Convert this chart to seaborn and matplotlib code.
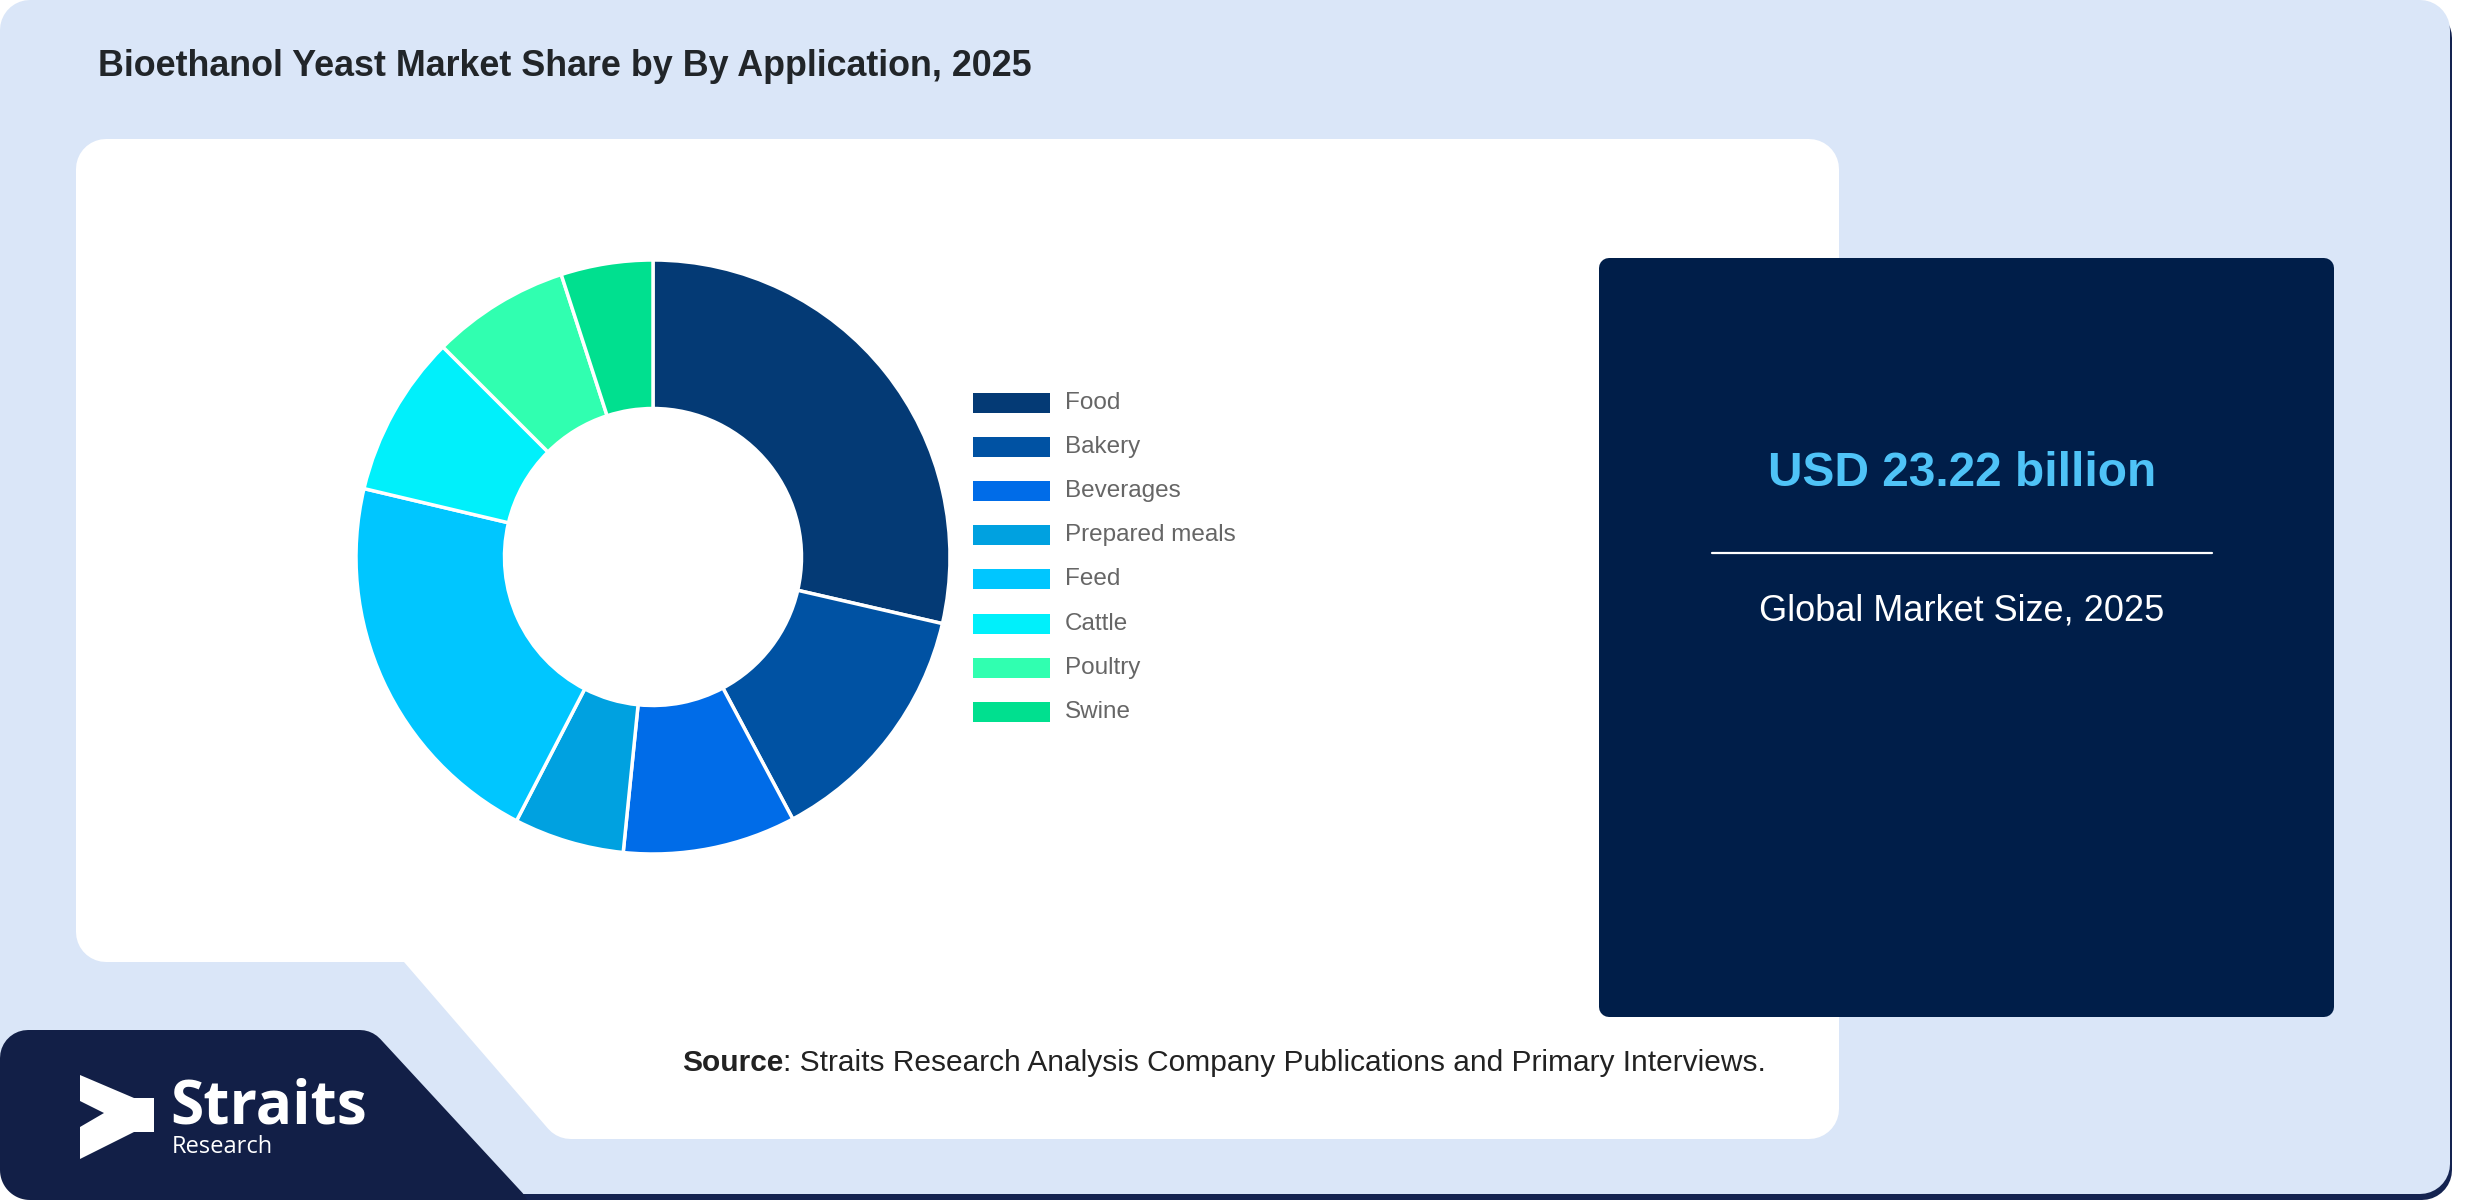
import numpy as np
import seaborn as sns
import matplotlib.pyplot as plt
from matplotlib.patches import Polygon

# market share by application, 2025 (%)
categories = ["Food", "Bakery", "Beverages", "Prepared meals", "Feed", "Cattle", "Poultry", "Swine"]
shares = [28.6, 13.6, 9.4, 6.0, 21.1, 8.8, 7.5, 5.0]
colors = ["#043a75", "#0052a3", "#006ce8", "#00a1e0", "#00c6ff", "#00f0fb", "#30ffb0", "#00e08f"]

title = "Bioethanol Yeast Market Share by By Application, 2025"
market_size = "USD 23.22 billion"
market_label = "Global Market Size, 2025"
source_text = ": Straits Research Analysis Company Publications and Primary Interviews."

sns.set_theme(style="white")
palette = sns.color_palette(colors)
plt.rcParams["font.family"] = ["Liberation Sans", "DejaVu Sans"]

W, H, DPI = 2480, 1200, 100


def inset(pts, d):
    # move every edge of a polygon inward by d (pixel units)
    pts = np.array(pts, float)
    n = len(pts)
    area = 0.5 * np.sum(pts[:, 0] * np.roll(pts[:, 1], -1) - np.roll(pts[:, 0], -1) * pts[:, 1])
    s = 1 if area > 0 else -1
    out = []
    for i in range(n):
        p0, p1, p2 = pts[i - 1], pts[i], pts[(i + 1) % n]
        e1, e2 = p1 - p0, p2 - p1
        n1 = s * np.array([-e1[1], e1[0]]) / np.hypot(*e1)
        n2 = s * np.array([-e2[1], e2[0]]) / np.hypot(*e2)
        A = np.array([e1, -e2]).T
        b = (p1 + n2 * d) - (p0 + n1 * d)
        t = np.linalg.solve(A, b)[0]
        out.append(p0 + n1 * d + t * e1)
    return out


def rounded_shape(ax, pts, r, color, z):
    # rounded corners: inset polygon + thick stroke with round joins
    ax.add_patch(Polygon(inset(pts, r), closed=True, facecolor=color, edgecolor=color,
                         linewidth=2 * r * 72 / DPI, joinstyle="round", zorder=z))


fig = plt.figure(figsize=(W / DPI, H / DPI), dpi=DPI, facecolor="white")
bg = fig.add_axes([0, 0, 1, 1])
bg.set_xlim(0, W)
bg.set_ylim(H, 0)
bg.axis("off")

# card, bottom shadow line
rounded_shape(bg, [(0, 8), (2452, 8), (2452, 1200), (0, 1200)], 30, "#142350", 1)
rounded_shape(bg, [(0, 0), (2450, 0), (2450, 1194), (0, 1194)], 30, "#dae6f8", 2)

# white panel with cut corner
rounded_shape(bg, [(76, 139), (1839, 139), (1839, 1139), (557, 1139), (404, 962), (76, 962)],
              30, "white", 3)

# logo block (runs off the bottom edge into the shadow line)
rounded_shape(bg, [(0, 1030), (372, 1030), (566, 1240), (0, 1240)], 28, "#121f47", 4)
# white mask to keep the card's rounded bottom-left corner
th = np.linspace(np.pi, np.pi / 2, 20)
corner = [(0, 1200)] + [(30 + 30 * np.cos(t), 1170 + 30 * np.sin(t)) for t in th]
bg.add_patch(Polygon(corner, closed=True, facecolor="white", edgecolor="none", zorder=7))

# market size box
rounded_shape(bg, [(1599, 258), (2334, 258), (2334, 1017), (1599, 1017)], 10, "#001e49", 4)

bg.text(98, 66, title, fontsize=25.8, fontweight="bold", color="#212529", va="center", ha="left")

bg.text(1962, 473, market_size, fontsize=34.5, fontweight="bold", color="#4fc3f7",
        ha="center", va="center", zorder=5)
bg.plot([1712, 2212], [553, 553], color="white", lw=1.6, zorder=5)
bg.text(1962, 611, market_label, fontsize=26, color="white", ha="center", va="center", zorder=5)

src = bg.text(682, 1063, "Source", fontsize=21.5, fontweight="bold", color="#222222",
              ha="left", va="center", zorder=5)
renderer = fig.canvas.get_renderer()
src_w = src.get_window_extent(renderer).width
bg.text(682 + src_w, 1063, source_text, fontsize=21.5, color="#222222",
        ha="left", va="center", zorder=5)

# logo mark and wordmark
logo = [(80, 1075), (134, 1098), (154, 1098), (154, 1132), (134, 1132), (80, 1159),
        (80, 1127), (104, 1113), (80, 1101)]
bg.add_patch(Polygon(logo, closed=True, facecolor="white", edgecolor="none", zorder=6))
bg.text(170, 1124, "Straits", fontsize=43.5, fontweight="bold", color="white",
        family=["Open Sans", "DejaVu Sans"], ha="left", va="baseline", zorder=6)
bg.text(172, 1153, "Research", fontsize=17, color="white",
        family=["Open Sans", "DejaVu Sans"], ha="left", va="baseline", zorder=6)

# legend
for i, (cat, col) in enumerate(zip(categories, palette)):
    y = 403 + i * 44.1
    bg.add_patch(Polygon([(973, y - 10), (1050, y - 10), (1050, y + 10), (973, y + 10)],
                         closed=True, facecolor=col, edgecolor="none", zorder=6))
    bg.text(1065, y, cat, fontsize=17.5, color="#666666", ha="left", va="center", zorder=6)

# donut
cx, cy, R = 653, 557, 297
ax = fig.add_axes([(cx - R) / W, 1 - (cy + R) / H, 2 * R / W, 2 * R / H])
ax.patch.set_alpha(0)
ax.pie(shares, colors=palette, startangle=90, counterclock=False, radius=1,
       wedgeprops=dict(width=0.5, edgecolor="white", linewidth=2.5))
ax.set_xlim(-1, 1)
ax.set_ylim(-1, 1)
ax.axis("off")

fig.savefig("out.png", dpi=DPI, facecolor="white")
plt.close()
print("Done")
